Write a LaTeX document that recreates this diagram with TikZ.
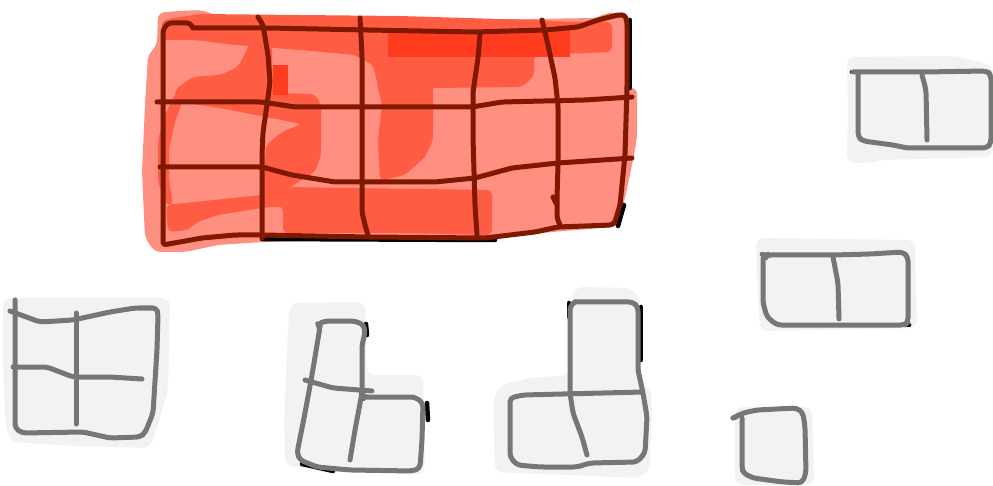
\documentclass[tikz,border=0pt]{standalone}
\definecolor{salmon}{RGB}{255,143,128}
\definecolor{redmid}{RGB}{255,92,68}
\definecolor{redbright}{RGB}{255,60,30}
\definecolor{gridred}{RGB}{128,24,0}
\definecolor{bgGrey}{RGB}{242,242,242}
\definecolor{lineGrey}{RGB}{118,118,118}
\tikzset{
  salmonfill/.style={fill=salmon, rounded corners=6pt},
  darkfill/.style={fill=redmid, rounded corners=5pt},
  brightfill/.style={fill=redbright},
  gridline/.style={draw=gridred, line width=5pt, rounded corners=3pt},
  shadowline/.style={draw=black, line width=4.5pt},
  piecebg/.style={fill=bgGrey, rounded corners=8pt},
  pieceline/.style={draw=lineGrey, line width=5pt, rounded corners=4pt},
}
\begin{document}
\begin{tikzpicture}[x=1pt,y=-1pt,line cap=round,line join=round]
\useasboundingbox (0,0) rectangle (993,486);

% ---------- red board ----------
\path[salmonfill] (158,13) -- (178,11) -- (202,10) -- (215,15) -- (252,17) -- (385,17) -- (452,20) -- (598,18) -- (605,13) -- (625,13) -- (628,40) -- (627,88) -- (637,88) -- (637,138) -- (632,165) -- (625,198) -- (618,222) -- (612,227) -- (552,232) -- (495,238) -- (385,238) -- (262,242) -- (218,245) -- (185,252) -- (155,252) -- (145,238) -- (142,172) -- (145,105) -- (148,55) -- (157,45) -- cycle;

\path[darkfill] (162,20) -- (200,14) -- (300,15) -- (400,16) -- (532,20) -- (570,22) -- (612,22) -- (612,52) -- (534,55) -- (534,76) -- (522,87) -- (433,88) -- (378,86) -- (373,65) -- (355,55) -- (300,50) -- (235,45) -- (195,40) -- (162,40) -- cycle;
\path[darkfill] (376,80) -- (433,80) -- (433,140) -- (425,157) -- (405,175) -- (380,181) -- (378,140) -- (382,105) -- cycle;
\path[darkfill] (250,42) -- (272,45) -- (273,93) -- (315,94) -- (321,105) -- (321,155) -- (315,172) -- (298,182) -- (275,198) -- (262,206) -- (264,175) -- (266,145) -- (282,132) -- (302,124) -- (225,109) -- (175,101) -- (175,90) -- (192,77) -- (220,75) -- (238,67) -- (246,52) -- cycle;
\path[darkfill] (176,92) -- (182,102) -- (174,125) -- (169,150) -- (169,180) -- (173,205) -- (166,205) -- (158,182) -- (158,140) -- (165,115) -- cycle;
\path[darkfill] (166,205) -- (262,195) -- (283,187) -- (492,190) -- (492,235) -- (400,233) -- (283,233) -- (283,206) -- (262,208) -- (218,215) -- (197,222) -- (188,230) -- (168,232) -- cycle;
\path[brightfill] (388,30) rectangle (570,57);
\path[brightfill] (273,65) rectangle (288,95);

% black shadows of the board
\draw[shadowline] (262,239) -- (495,240);
\draw[shadowline] (630,20) -- (630,88);
\draw[shadowline] (624,205) -- (618,226);

% grid
\draw[gridline] (193,28) -- (268,28) -- (368,30) -- (475,32) -- (545,30) -- (578,27) -- (598,20) -- (618,15) -- (625,15) -- (627,22) -- (627,88) -- (625,155) -- (620,205) -- (615,222) -- (612,225) -- (558,227) -- (535,232) -- (485,238) -- (368,237) -- (262,235) -- (235,235) -- (202,238) -- (163,245) -- (163,30) -- (168,23) -- (190,23) -- (193,28);
\draw[gridline] (258,17) -- (263,25) -- (268,55) -- (270,82) -- (267,105) -- (263,132) -- (262,155) -- (262,238);
\draw[gridline] (360,18) -- (362,55) -- (362,105) -- (362,212) -- (365,225) -- (368,235);
\draw[gridline] (480,35) -- (478,58) -- (473,92) -- (473,138) -- (475,205) -- (477,235);
\draw[gridline] (542,20) -- (548,45) -- (555,78) -- (558,105) -- (558,165) -- (557,198) -- (557,218) -- (560,225);
\draw[gridline] (553,197) -- (556,203);
\draw[gridline] (157,102) -- (202,102) -- (262,102) -- (295,107) -- (368,107) -- (472,107) -- (502,102) -- (585,100) -- (632,97);
\draw[gridline] (160,167) -- (262,167) -- (292,175) -- (335,182) -- (435,182) -- (475,178) -- (512,168) -- (558,163) -- (632,158);

% ---------- grey pieces: backgrounds ----------
\path[piecebg] (3,298) -- (170,298) -- (168,390) -- (158,425) -- (150,448) -- (77,446) -- (10,442) -- (5,420) -- (3,360) -- cycle;
\path[piecebg] (290,303) -- (365,302) -- (367,375) -- (423,375) -- (425,470) -- (420,475) -- (285,466) -- (284,420) -- (288,330) -- cycle;
\path[piecebg] (575,287) -- (632,288) -- (640,300) -- (640,383) -- (652,390) -- (650,470) -- (640,478) -- (495,472) -- (493,400) -- (500,385) -- (530,378) -- (570,375) -- (572,300) -- cycle;
\path[piecebg] (847,57) -- (955,56) -- (993,65) -- (993,157) -- (880,160) -- (870,163) -- (847,163) -- (848,110) -- cycle;
\path[piecebg] (756,238) -- (915,240) -- (917,328) -- (760,331) -- (757,280) -- cycle;
\path[piecebg] (735,407) -- (812,407) -- (814,485) -- (735,485) -- cycle;

% ---------- grey pieces: black shadows ----------
\draw[shadowline] (427,403) -- (428,420);
\draw[shadowline] (366,324) -- (367,335);
\draw[shadowline] (302,464) -- (333,471);
\draw[shadowline] (569,303) -- (569,317);
\draw[shadowline] (641,307) -- (641,360);
\draw[shadowline] (852,72) -- (855,72);
\draw[shadowline] (906,325) -- (909,325);
\draw[shadowline] (733,418) -- (736,417);

% ---------- grey pieces: strokes ----------
% square 2x2
\draw[pieceline] (15,300) -- (15,428) -- (22,433) -- (83,432) -- (110,438) -- (140,437) -- (145,433) -- (153,413) -- (157,350) -- (158,315) -- (157,308) -- (135,308) -- (110,312) -- (73,320) -- (40,322) -- (10,311);
\draw[pieceline] (76,313) -- (76,424);
\draw[pieceline] (13,367) -- (47,367) -- (73,377) -- (110,377) -- (142,379);
% L piece
\draw[pieceline] (320,327) -- (318,324) -- (325,321) -- (355,321) -- (364,325) -- (365,333) -- (362,345) -- (362,395) -- (363,397) -- (415,397) -- (423,403) -- (422,440) -- (420,468) -- (413,471) -- (350,470) -- (317,467) -- (300,460) -- (297,453) -- (305,413) -- (312,375) -- cycle;
\draw[pieceline] (305,380) -- (333,388) -- (372,391);
\draw[pieceline] (362,393) -- (355,430) -- (350,460);
% inverted L piece
\draw[pieceline] (575,302) -- (633,302) -- (638,307) -- (638,370) -- (643,393) -- (647,417) -- (645,453) -- (637,462) -- (590,463) -- (577,467) -- (540,467) -- (517,465) -- (510,457) -- (510,398) -- (523,395) -- (643,392);
\draw[pieceline] (575,302) -- (570,306) -- (570,393) -- (573,413) -- (582,437) -- (587,455);
% domino top right
\draw[pieceline] (853,72) -- (923,72) -- (987,71) -- (991,75) -- (991,143) -- (987,148) -- (907,148) -- (893,145) -- (863,141) -- (858,137) -- (858,73);
\draw[pieceline] (922,75) -- (926,90) -- (927,140);
% domino middle right
\draw[pieceline] (763,255) -- (765,257) -- (767,255) -- (833,255) -- (870,254) -- (903,252) -- (908,257) -- (908,322) -- (905,325) -- (777,325) -- (767,317) -- (763,303) -- cycle;
\draw[pieceline] (833,257) -- (838,283) -- (839,319);
% single square
\draw[pieceline] (733,418) -- (743,413) -- (757,410) -- (797,408) -- (803,413) -- (805,427) -- (806,473) -- (802,483) -- (783,482) -- (753,478) -- (743,473) -- (742,467) -- (742,418);
\end{tikzpicture}
\end{document}
